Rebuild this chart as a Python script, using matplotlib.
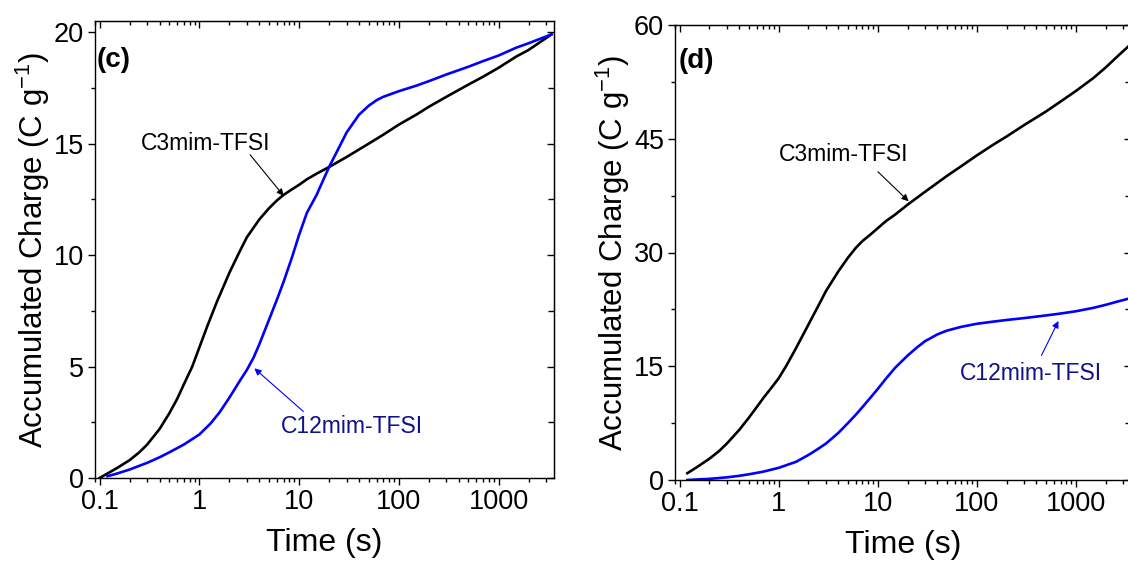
import matplotlib
matplotlib.use("Agg")
import matplotlib.pyplot as plt
from matplotlib.ticker import MultipleLocator, LogLocator, NullFormatter

plt.rcParams['font.family'] = ['Liberation Sans', 'DejaVu Sans']
plt.rcParams['mathtext.fontset'] = 'custom'
plt.rcParams['mathtext.rm'] = 'Liberation Sans'

# (c) panel values
t_c3_c = [0.1, 0.12, 0.15, 0.2, 0.25, 0.3, 0.4, 0.5, 0.6, 0.7, 0.85, 1, 1.2, 1.5, 2,
          2.5, 3, 4, 5, 6, 7, 8.5, 10, 12, 15, 20, 30, 50, 70, 100, 150, 200, 300,
          500, 700, 1000, 1500, 2000, 3400]
q_c3_c = [0.0, 0.2, 0.45, 0.8, 1.15, 1.5, 2.2, 2.9, 3.55, 4.2, 5.0, 5.85, 6.8, 7.9,
          9.2, 10.1, 10.8, 11.6, 12.1, 12.45, 12.7, 12.95, 13.15, 13.4, 13.65, 13.95,
          14.4, 15.0, 15.4, 15.85, 16.3, 16.65, 17.1, 17.65, 18.0, 18.4, 18.9, 19.2,
          19.9]
t_c12_c = [0.12, 0.15, 0.2, 0.3, 0.4, 0.5, 0.7, 1, 1.3, 1.6, 2, 2.5, 3, 3.5, 4, 5, 6,
           7, 8.5, 10, 12, 15, 20, 25, 30, 40, 50, 60, 70, 100, 150, 200, 300, 500,
           700, 1000, 1500, 2000, 3400]
q_c12_c = [0.08, 0.2, 0.38, 0.68, 0.93, 1.15, 1.5, 1.95, 2.45, 2.95, 3.6, 4.3, 4.85,
           5.4, 6.0, 7.1, 8.0, 8.8, 9.9, 10.9, 11.9, 12.7, 13.95, 14.8, 15.5, 16.3,
           16.7, 16.95, 17.1, 17.35, 17.6, 17.8, 18.1, 18.45, 18.7, 18.95, 19.3, 19.5,
           19.9]

# (d) panel values
t_c3_d = [0.12, 0.15, 0.2, 0.25, 0.3, 0.4, 0.5, 0.6, 0.7, 0.85, 1, 1.2, 1.5, 2, 2.5,
          3, 4, 5, 6, 7, 8.5, 10, 12, 15, 20, 30, 50, 70, 100, 150, 200, 300, 500,
          700, 1000, 1500, 2000, 2500, 3600]
q_c3_d = [0.9, 1.7, 2.8, 3.8, 4.8, 6.6, 8.2, 9.6, 10.8, 12.2, 13.4, 15.1, 17.4, 20.5,
          22.9, 24.9, 27.5, 29.3, 30.6, 31.5, 32.4, 33.2, 34.1, 35.0, 36.3, 38.0,
          40.1, 41.4, 42.8, 44.3, 45.3, 46.8, 48.6, 49.9, 51.3, 53.0, 54.4, 55.6,
          57.5]
t_c12_d = [0.12, 0.15, 0.2, 0.3, 0.4, 0.5, 0.7, 1, 1.5, 2, 2.5, 3, 4, 5, 6, 7, 8.5, 10,
           12, 15, 20, 25, 30, 40, 50, 70, 100, 150, 200, 300, 500, 700, 1000, 1500,
           2000, 2500, 3600]
q_c12_d = [0.0, 0.07, 0.15, 0.35, 0.55, 0.75, 1.1, 1.6, 2.4, 3.3, 4.1, 4.8, 6.2, 7.5,
           8.6, 9.6, 10.9, 12.0, 13.3, 14.8, 16.4, 17.5, 18.3, 19.2, 19.7, 20.2, 20.6,
           20.9, 21.1, 21.35, 21.7, 21.95, 22.25, 22.7, 23.1, 23.45, 24.0]

xticks = [0.1, 1, 10, 100, 1000]
xticklabels = ['0.1', '1', '10', '100', '1000']

fig = plt.figure(figsize=(11.28, 5.61), dpi=100)
ax1 = fig.add_axes([95/1128, 83/561, 459/1128, 457/561])
ax2 = fig.add_axes([675/1128, 81/561, 456/1128, 455/561])


def style_axes(ax, ymax, ymajor, yminor):
    ax.set_xscale('log')
    ax.set_xlim(0.09, 3600)
    ax.set_ylim(0, ymax)
    ax.set_xticks(xticks)
    ax.set_xticklabels(xticklabels)
    ax.xaxis.set_minor_locator(LogLocator(base=10, subs=range(2, 10)))
    ax.xaxis.set_minor_formatter(NullFormatter())
    ax.yaxis.set_major_locator(MultipleLocator(ymajor))
    ax.yaxis.set_minor_locator(MultipleLocator(yminor))
    for s in ax.spines.values():
        s.set_linewidth(1.0)
    ax.tick_params(which='both', direction='out', labelsize=19.5, width=1.0, pad=3)
    ax.tick_params(which='major', length=5)
    ax.tick_params(which='minor', length=3)
    ax.set_xlabel('Time (s)', fontsize=23, labelpad=9)
    ax.set_ylabel('Accumulated Charge (C g$^{-1}$)', fontsize=22.5, labelpad=1)

    top = ax.secondary_xaxis('top')
    top.set_xticks(xticks)
    top.xaxis.set_minor_locator(LogLocator(base=10, subs=range(2, 10)))
    top.xaxis.set_minor_formatter(NullFormatter())
    top.tick_params(which='both', direction='in', labeltop=False, width=1.0)
    top.tick_params(which='major', length=5)
    top.tick_params(which='minor', length=3)
    right = ax.secondary_yaxis('right')
    right.yaxis.set_major_locator(MultipleLocator(ymajor))
    right.yaxis.set_minor_locator(MultipleLocator(yminor))
    right.tick_params(which='both', direction='in', labelright=False, width=1.0)
    right.tick_params(which='major', length=5)
    right.tick_params(which='minor', length=4)


style_axes(ax1, 20.5, 5, 2.5)
style_axes(ax2, 60, 15, 7.5)

ax1.plot(t_c3_c, q_c3_c, color='black', lw=1.9)
ax1.plot(t_c12_c, q_c12_c, color='#0000ff', lw=1.9)
ax2.plot(t_c3_d, q_c3_d, color='black', lw=1.9)
ax2.plot(t_c12_d, q_c12_d, color='#0000ff', lw=1.9)

ax1.text(0.004, 0.915, '(c)', transform=ax1.transAxes, fontsize=20,
         fontweight='bold', ha='left', va='center')
ax2.text(0.007, 0.92, '(d)', transform=ax2.transAxes, fontsize=20,
         fontweight='bold', ha='left', va='center')

black_arrow = dict(arrowstyle='-|>', color='black', lw=0.8, mutation_scale=10)
blue_arrow = dict(arrowstyle='-|>', color='#0000ff', lw=0.8, mutation_scale=10)

ax1.text(1.17, 15.0, 'C3mim-TFSI', fontsize=16.5, ha='center', va='center')
ax1.annotate('', xy=(7.3, 12.56), xytext=(3.1, 14.6), arrowprops=black_arrow)
ax1.text(34, 2.33, 'C12mim-TFSI', fontsize=16.5, color='#10108a',
         ha='center', va='center')
ax1.annotate('', xy=(3.4, 5.0), xytext=(11.6, 2.9), arrowprops=blue_arrow)

ax2.text(4.55, 42.9, 'C3mim-TFSI', fontsize=16.5, ha='center', va='center')
ax2.annotate('', xy=(21.5, 36.5), xytext=(9.6, 40.9), arrowprops=black_arrow)
ax2.text(348, 14.1, 'C12mim-TFSI', fontsize=16.5, color='#10108a',
         ha='center', va='center')
ax2.annotate('', xy=(686, 21.3), xytext=(437, 16.1), arrowprops=blue_arrow)

fig.savefig('out.png', dpi=100)
